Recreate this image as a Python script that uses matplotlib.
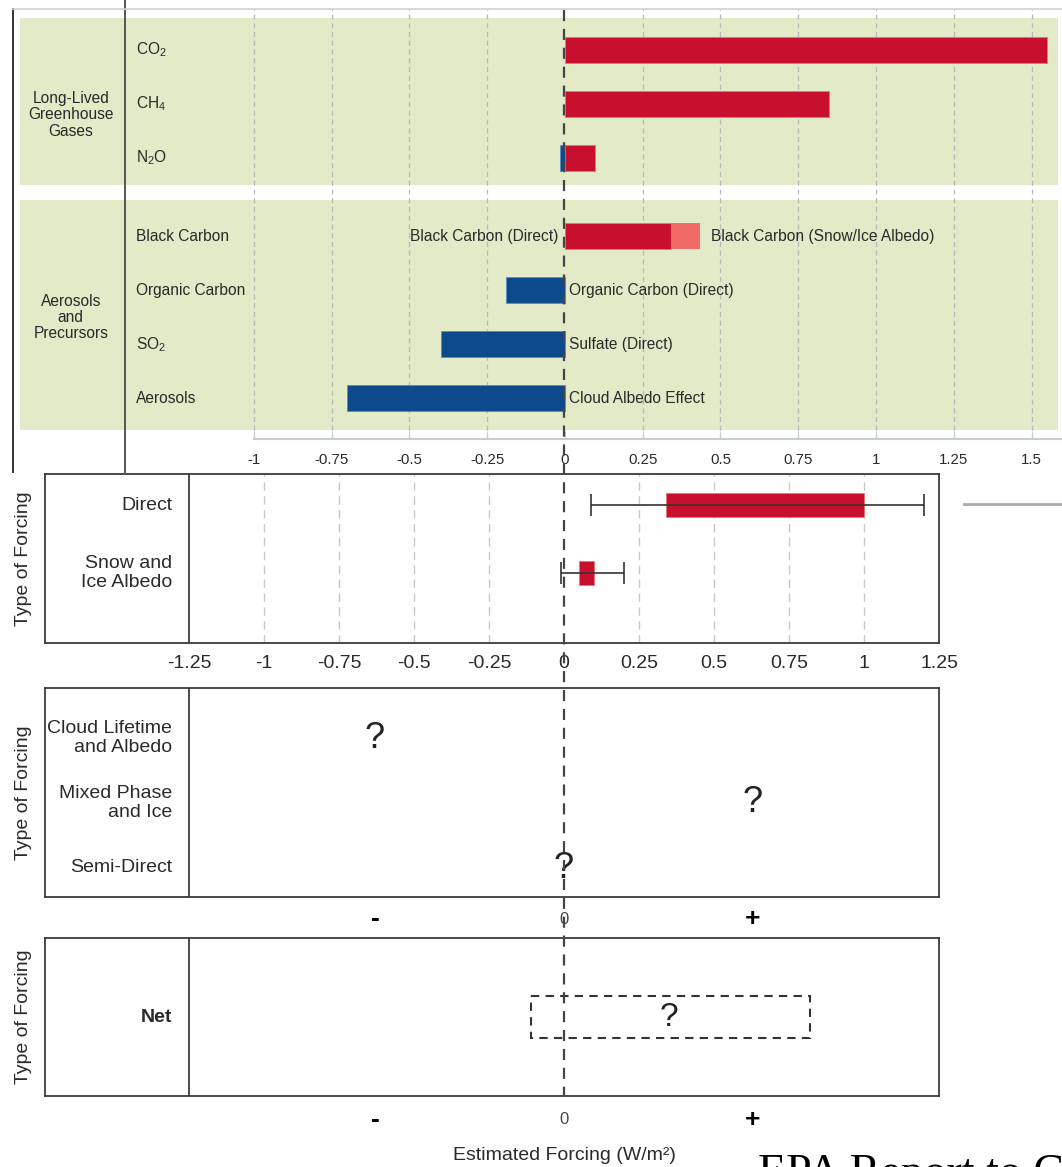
import matplotlib
matplotlib.use("Agg")
import matplotlib.pyplot as plt
import matplotlib.transforms as mtransforms
from matplotlib.lines import Line2D
from matplotlib.patches import Rectangle
import numpy as np

plt.rcParams['font.family'] = ['Liberation Sans', 'DejaVu Sans']
plt.rcParams['mathtext.fontset'] = 'custom'
plt.rcParams['mathtext.rm'] = 'Liberation Sans'

# --- data: emitted species (top panel) ---
species = [r'$\mathregular{CO_2}$', r'$\mathregular{CH_4}$', r'$\mathregular{N_2O}$',
           'Black Carbon', 'Organic Carbon', r'$\mathregular{SO_2}$', 'Aerosols']
species_group = [0, 0, 0, 1, 1, 1, 1]
group_names = ['Long-Lived\nGreenhouse\nGases', 'Aerosols\nand\nPrecursors']
forcing_pos = [1.55, 0.85, 0.095, 0.34, 0.0, 0.0, 0.0]
forcing_snow = [0.0, 0.0, 0.0, 0.095, 0.0, 0.0, 0.0]
forcing_neg = [0.0, 0.0, -0.015, 0.0, -0.19, -0.40, -0.70]
effect_names = ['', '', '', 'Black Carbon (Direct)', 'Organic Carbon (Direct)',
                'Sulfate (Direct)', 'Cloud Albedo Effect']
top_ticks = [-1, -0.75, -0.5, -0.25, 0, 0.25, 0.5, 0.75, 1, 1.25, 1.5]
top_tick_labels = ['-1', '-0.75', '-0.5', '-0.25', '0', '0.25', '0.5', '0.75', '1', '1.25', '1.5']

# --- data: black carbon forcing ranges ---
bc_types = ['Direct', 'Snow and\nIce Albedo']
bc_box_lo = [0.34, 0.05]
bc_box_hi = [1.0, 0.10]
bc_min = [0.09, -0.01]
bc_max = [1.2, 0.2]
bc_ticks = [-1.25, -1, -0.75, -0.5, -0.25, 0, 0.25, 0.5, 0.75, 1, 1.25]
bc_tick_labels = ['-1.25', '-1', '-0.75', '-0.5', '-0.25', '0', '0.25', '0.5', '0.75', '1', '1.25']

# --- data: cloud effects and net (qualitative) ---
cloud_types = ['Cloud Lifetime\nand Albedo', 'Mixed Phase\nand Ice', 'Semi-Direct']
cloud_guess = [-0.63, 0.63, 0.0]
sign_ticks = [-0.63, 0, 0.63]
sign_labels = ['-', '0', '+']
net_range = [-0.11, 0.82]
net_guess = 0.35

RED = '#c8102e'
LRED = '#f06a66'
BLUE = '#0c4a8b'
GREEN = '#e2eac8'
GRID = '#b8b8b8'
FRAME = '#3a3a3a'
TXT = '#2a2a2a'
TOP_FS = 11.2

W, H = 1062, 1167
fig = plt.figure(figsize=(W / 100, H / 100), dpi=100)


def px_axes(l, t, r, b):
    return fig.add_axes([l / W, 1 - b / H, (r - l) / W, (b - t) / H])


def px_line(xs, ys, **kw):
    fig.add_artist(Line2D([x / W for x in xs], [1 - y / H for y in ys],
                          transform=fig.transFigure, **kw))


# ---------------- top panel ----------------
ax = px_axes(13, 9, 1062, 439)
ax.set_xlim((13 - 565) / 311, (1062 - 565) / 311)
ax.set_ylim((439 - 50) / 54, (9 - 50) / 54)
rows = np.arange(len(species)) + 0.45 * np.array(species_group)

ax.axhspan(-0.59, 2.5, xmin=0.0067, xmax=0.996, color=GREEN, lw=0, zorder=0.2)
ax.axhspan(2.78, 7.04, xmin=0.0067, xmax=0.996, color=GREEN, lw=0, zorder=0.2)
for t in top_ticks:
    if t != 0:
        ax.axvline(t, color=GRID, ls=(0, (4, 3)), lw=0.9, zorder=0.5)

pos = np.array(forcing_pos)
snow = np.array(forcing_snow)
neg = np.array(forcing_neg)
m = pos > 0
ax.barh(rows[m], pos[m], height=0.48, color=RED, edgecolor='#e27878', lw=0.7, zorder=2)
m = snow > 0
ax.barh(rows[m], snow[m], left=pos[m], height=0.48, color=LRED, lw=0, zorder=2)
m = neg < 0
ax.barh(rows[m], neg[m], height=0.48, color=BLUE, edgecolor='#5b8fc2', lw=0.7, zorder=2)

blend = mtransforms.blended_transform_factory(ax.transAxes, ax.transData)
for r, name in zip(rows, species):
    ax.text(0.117, r, name, transform=blend, ha='left', va='center', fontsize=TOP_FS, color=TXT)
group_shift = [0.2, 0.0]
for g, gname in enumerate(group_names):
    gy = rows[np.array(species_group) == g].mean() + group_shift[g]
    ax.text(0.055, gy, gname, transform=blend, ha='center', va='center',
            fontsize=TOP_FS, color=TXT, linespacing=1.1)

for r, name, p, s in zip(rows, effect_names, pos, snow):
    if not name:
        continue
    if name.startswith('Black'):
        ax.annotate(name, (0, r), xytext=(-5, 0), textcoords='offset points',
                    ha='right', va='center', fontsize=TOP_FS, color=TXT)
        ax.annotate('Black Carbon (Snow/Ice Albedo)', (p + s, r), xytext=(8, 0),
                    textcoords='offset points', ha='left', va='center', fontsize=TOP_FS, color=TXT)
    else:
        ax.annotate(name, (0, r), xytext=(3, 0), textcoords='offset points',
                    ha='left', va='center', fontsize=TOP_FS, color=TXT)

for side in ['top', 'left', 'right']:
    ax.spines[side].set_visible(False)
ax.spines['bottom'].set_bounds(-1, ax.get_xlim()[1])
ax.spines['bottom'].set_color('#c5ccd3')
ax.spines['bottom'].set_linewidth(1.5)
ax.set_xticks(top_ticks, top_tick_labels)
ax.tick_params(axis='x', direction='in', length=6, color='#c5ccd3', labelsize=10.8,
               pad=10, labelcolor=TXT)
ax.set_yticks([])
ax.patch.set_alpha(0)


def forcing_panel(l, t, r, b):
    a = px_axes(l, t, r, b)
    a.set_xlim((l - 564) / 300, (r - 564) / 300)
    a.axvline(-1.25, color=FRAME, lw=1.3)
    for sp in a.spines.values():
        sp.set_color(FRAME)
        sp.set_linewidth(1.3)
    a.set_yticks([])
    a.text(-0.0235, 0.5, 'Type of Forcing', transform=a.transAxes, rotation=90,
           ha='center', va='center', fontsize=14, color=TXT)
    return a


def row_labels(a, labels, ys, **kw):
    for y, lab in zip(ys, labels):
        a.annotate(lab, (-1.25, y), xytext=(-12, 0), textcoords='offset points',
                   ha='right', va='center', fontsize=14, color=TXT, **kw)


def sign_axis(a, pad):
    a.set_xticks(sign_ticks, sign_labels)
    a.tick_params(axis='x', length=0, pad=pad)
    for lbl in a.get_xticklabels():
        lbl.set_verticalalignment('center')
        if lbl.get_text() in ('-', '+'):
            lbl.set_fontsize(19)
            lbl.set_fontweight('bold')
        else:
            lbl.set_fontsize(12)
            lbl.set_color('#444444')


# ---------------- black carbon panel ----------------
ax2 = forcing_panel(45, 474, 939, 643)
ax2.set_ylim((643 - 505) / 68, (474 - 505) / 68)
bc_rows = np.arange(len(bc_types))
for t in bc_ticks:
    if t not in (-1.25, 0, 1.25):
        ax2.axvline(t, color='#c8c8c8', ls=(0, (6, 4)), lw=1, zorder=0.5)
lo = np.array(bc_box_lo)
hi = np.array(bc_box_hi)
ax2.barh(bc_rows, hi - lo, left=lo, height=0.34, color=RED, edgecolor='#e27878', lw=0.7, zorder=2)
wmin = np.array(bc_min)
wmax = np.array(bc_max)
mid = (wmin + wmax) / 2
ax2.errorbar(mid, bc_rows, xerr=[mid - wmin, wmax - mid], fmt='none', ecolor='#333333',
             elinewidth=1.2, capsize=8, capthick=1.2, zorder=3)
row_labels(ax2, bc_types, bc_rows)
ax2.set_xticks(bc_ticks, bc_tick_labels)
ax2.tick_params(axis='x', length=0, labelsize=14, pad=9, labelcolor=TXT)

# ---------------- cloud effects panel ----------------
ax3 = forcing_panel(45, 688, 939, 897)
ax3.set_ylim((897 - 738) / 65, (688 - 738) / 65)
cl_rows = np.arange(len(cloud_types))
row_labels(ax3, cloud_types, cl_rows)
for x, y in zip(cloud_guess, cl_rows):
    ax3.text(x, y, '?', ha='center', va='center', fontsize=26, color='#222222')
sign_axis(ax3, 16)

# ---------------- net panel ----------------
ax4 = forcing_panel(45, 938, 939, 1096)
ax4.set_ylim(0.79, -0.79)
row_labels(ax4, ['Net'], [0], fontweight='bold')
ax4.add_patch(Rectangle((net_range[0], -0.21), net_range[1] - net_range[0], 0.42,
                        fill=False, ec='#333333', lw=1.5, ls=(0, (4, 3))))
ax4.text(net_guess, 0, '?', ha='center', va='center', fontsize=24, color='#222222')
sign_axis(ax4, 17)
ax4.text(0, -0.375, 'Estimated Forcing (W/m²)', transform=mtransforms.blended_transform_factory(
    ax4.transData, ax4.transAxes), ha='center', va='center', fontsize=14, color=TXT)

# ---------------- decorations ----------------
zero = mtransforms.blended_transform_factory(ax2.transData, fig.transFigure)
fig.add_artist(Line2D([0, 0], [1 - 10 / H, 1 - 1096 / H], transform=zero, color='#444444',
                      lw=1.6, ls=(0, (5, 3.5))))
px_line([13, 13], [9, 472], color='#333333', lw=1.4)
px_line([125, 125], [0, 473], color='#555555', lw=1.4)
px_line([13, 1062], [9, 9], color='#cdd2d6', lw=1.2)
px_line([964, 1062], [504, 504], color='#aaaaaa', lw=2)
# caption cut off by the image edge, as in the source picture
fig.text(758 / W, 1 - 1186 / H, 'EPA Report to Congress', family='Liberation Serif',
         fontsize=33, ha='left', va='baseline', color='black')

fig.savefig('out.png', dpi=100)
